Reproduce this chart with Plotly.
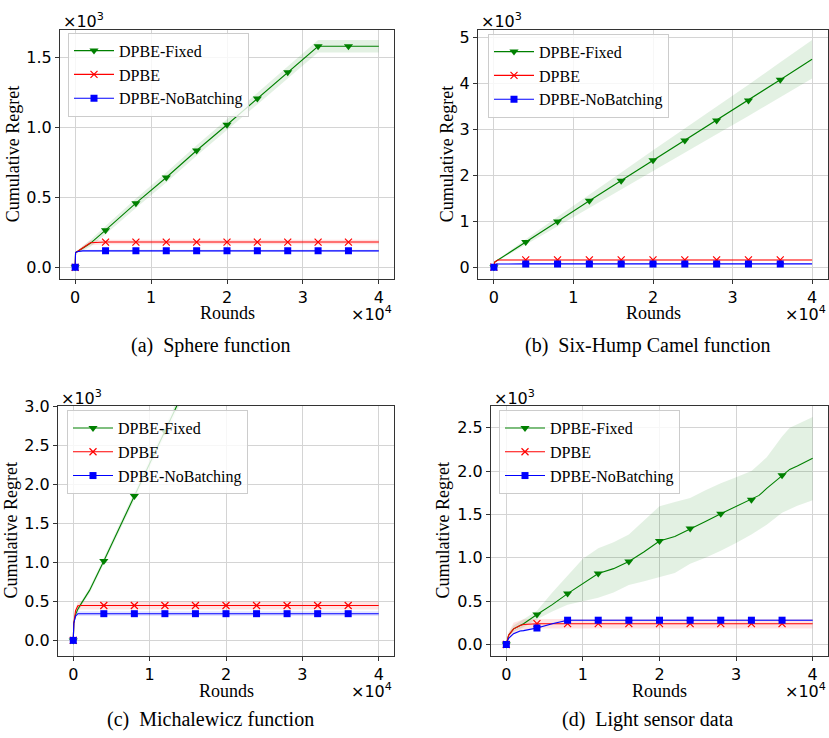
import plotly.graph_objects as go

W, H = 829, 738

NAMES = ["DPBE-Fixed", "DPBE", "DPBE-NoBatching"]
MARK_X = [0, 0.4, 0.8, 1.2, 1.6, 2.0, 2.4, 2.8, 3.2, 3.6]
X_TICKS = [0, 1, 2, 3, 4]

# ---------------- (a) Sphere function ----------------
a_x = [0, 0.005, 0.02, 0.05, 0.1, 0.2, 0.4, 0.8, 1.2, 1.6, 2.0, 2.4, 2.8, 3.2, 3.6, 4.0]
a_fixed = [0, 0.105, 0.11, 0.12, 0.138, 0.172, 0.266, 0.459, 0.643, 0.836, 1.020, 1.208, 1.396, 1.582, 1.582, 1.582]
a_fixed_sd = [0, 0.005, 0.006, 0.01, 0.018, 0.024, 0.03, 0.034, 0.036, 0.038, 0.04, 0.042, 0.044, 0.045, 0.045, 0.045]
a_dpbe = [0, 0.105, 0.11, 0.122, 0.14, 0.176, 0.181, 0.181, 0.181, 0.181, 0.181, 0.181, 0.181, 0.181, 0.181, 0.181]
a_dpbe_sd = [0, 0.005, 0.006, 0.01, 0.014, 0.018, 0.016, 0.016, 0.016, 0.016, 0.016, 0.016, 0.016, 0.016, 0.016, 0.016]
a_nob = [0, 0.105, 0.112, 0.116, 0.118, 0.118, 0.118, 0.118, 0.118, 0.118, 0.118, 0.118, 0.118, 0.118, 0.118, 0.118]
a_nob_sd = [0, 0.004, 0.006, 0.007, 0.007, 0.007, 0.007, 0.007, 0.007, 0.007, 0.007, 0.007, 0.007, 0.007, 0.007, 0.007]
a_yticks = [0.0, 0.5, 1.0, 1.5]

# ---------------- (b) Six-Hump Camel function ----------------
b_x = [0, 0.01, 0.05, 0.1, 0.4, 0.8, 1.2, 1.6, 2.0, 2.4, 2.8, 3.2, 3.6, 4.0]
b_fixed = [0, 0.11, 0.155, 0.21, 0.55, 0.996, 1.447, 1.884, 2.328, 2.758, 3.195, 3.632, 4.083, 4.527]
b_fixed_sd = [0, 0.01, 0.015, 0.02, 0.06, 0.1, 0.14, 0.18, 0.22, 0.26, 0.3, 0.34, 0.38, 0.42]
b_dpbe = [0, 0.11, 0.155, 0.158, 0.158, 0.158, 0.158, 0.158, 0.158, 0.158, 0.158, 0.158, 0.158, 0.158]
b_dpbe_sd = [0, 0.01, 0.015, 0.015, 0.015, 0.015, 0.015, 0.015, 0.015, 0.015, 0.015, 0.015, 0.015, 0.015]
b_nob = [0, 0.06, 0.07, 0.072, 0.072, 0.072, 0.072, 0.072, 0.072, 0.072, 0.072, 0.072, 0.072, 0.072]
b_nob_sd = [0, 0.005, 0.008, 0.008, 0.008, 0.008, 0.008, 0.008, 0.008, 0.008, 0.008, 0.008, 0.008, 0.008]
b_yticks = [0, 1, 2, 3, 4, 5]

# ---------------- (c) Michalewicz function ----------------
c_x_fixed = [0, 0.007, 0.03, 0.06, 0.11, 0.213, 0.4, 0.8, 1.2, 1.6]
c_fixed = [0, 0.22, 0.33, 0.40, 0.48, 0.64, 1.017, 1.848, 2.68, 3.51]
c_fixed_sd = [0, 0.01, 0.02, 0.03, 0.03, 0.035, 0.04, 0.05, 0.06, 0.07]
c_x = [0, 0.007, 0.03, 0.06, 0.11, 0.213, 0.4, 0.8, 1.2, 1.6, 2.0, 2.4, 2.8, 3.2, 3.6, 4.0]
c_dpbe = [0, 0.22, 0.38, 0.443, 0.447, 0.447, 0.447, 0.447, 0.447, 0.447, 0.447, 0.447, 0.447, 0.447, 0.447, 0.447]
c_dpbe_sd = [0, 0.01, 0.03, 0.05, 0.053, 0.053, 0.053, 0.053, 0.053, 0.053, 0.053, 0.053, 0.053, 0.053, 0.053, 0.053]
c_nob = [0, 0.22, 0.31, 0.342, 0.342, 0.342, 0.342, 0.342, 0.342, 0.342, 0.342, 0.342, 0.342, 0.342, 0.342, 0.342]
c_nob_sd = [0, 0.01, 0.02, 0.03, 0.03, 0.03, 0.03, 0.03, 0.03, 0.03, 0.03, 0.03, 0.03, 0.03, 0.03, 0.03]
c_yticks = [0.0, 0.5, 1.0, 1.5, 2.0, 2.5, 3.0]

# ---------------- (d) Light sensor data ----------------
d_x = [0, 0.03, 0.095, 0.18, 0.225, 0.4, 0.6, 0.8, 1.0, 1.2, 1.4, 1.6, 1.8, 2.0, 2.2, 2.4, 2.6,
       2.8, 3.0, 3.2, 3.3, 3.4, 3.6, 3.7, 3.8, 4.0]
d_fixed = [0, 0.107, 0.18, 0.22, 0.24, 0.345, 0.46, 0.587, 0.70, 0.818, 0.875, 0.958, 1.07, 1.193,
           1.246, 1.337, 1.42, 1.508, 1.59, 1.670, 1.72, 1.80, 1.951, 2.02, 2.06, 2.148]
d_fixed_hi = [0, 0.13, 0.22, 0.27, 0.29, 0.39, 0.60, 0.80, 0.99, 1.11, 1.18, 1.27, 1.43, 1.595,
              1.645, 1.69, 1.78, 1.86, 1.93, 2.00, 2.08, 2.16, 2.40, 2.50, 2.54, 2.625]
d_fixed_lo = [0, 0.09, 0.15, 0.18, 0.20, 0.29, 0.38, 0.458, 0.50, 0.54, 0.60, 0.686, 0.73, 0.78,
              0.826, 0.93, 1.0, 1.08, 1.17, 1.27, 1.33, 1.38, 1.52, 1.56, 1.60, 1.663]
d_dpbe = [0, 0.107, 0.18, 0.22, 0.23, 0.24, 0.24, 0.24, 0.24, 0.24, 0.24, 0.24, 0.24, 0.24,
          0.24, 0.24, 0.24, 0.24, 0.24, 0.24, 0.24, 0.24, 0.24, 0.24, 0.24, 0.24]
d_dpbe_hi = [0, 0.14, 0.25, 0.28, 0.29, 0.295, 0.295, 0.295, 0.295, 0.295, 0.295, 0.295, 0.295, 0.295,
             0.295, 0.295, 0.295, 0.295, 0.295, 0.295, 0.295, 0.295, 0.295, 0.295, 0.295, 0.295]
d_dpbe_lo = [0, 0.075, 0.12, 0.165, 0.175, 0.185, 0.185, 0.185, 0.185, 0.185, 0.185, 0.185, 0.185, 0.185,
             0.185, 0.185, 0.185, 0.185, 0.185, 0.185, 0.185, 0.185, 0.185, 0.185, 0.185, 0.185]
d_nob = [0, 0.07, 0.125, 0.155, 0.16, 0.19, 0.24, 0.28, 0.28, 0.28, 0.28, 0.28, 0.28, 0.28,
         0.28, 0.28, 0.28, 0.28, 0.28, 0.28, 0.28, 0.28, 0.28, 0.28, 0.28, 0.28]
d_nob_hi = [0, 0.08, 0.135, 0.165, 0.17, 0.2, 0.25, 0.29, 0.29, 0.29, 0.29, 0.29, 0.29, 0.29,
            0.29, 0.29, 0.29, 0.29, 0.29, 0.29, 0.29, 0.29, 0.29, 0.29, 0.29, 0.29]
d_nob_lo = [0, 0.06, 0.115, 0.145, 0.15, 0.18, 0.23, 0.27, 0.27, 0.27, 0.27, 0.27, 0.27, 0.27,
            0.27, 0.27, 0.27, 0.27, 0.27, 0.27, 0.27, 0.27, 0.27, 0.27, 0.27, 0.27]
d_yticks = [0.0, 0.5, 1.0, 1.5, 2.0, 2.5]

CAPTIONS = ["(a)\u2002Sphere function", "(b)\u2002Six-Hump Camel function",
            "(c)\u2002Michalewicz function", "(d)\u2002Light sensor data"]

COLORS = ["#008000", "#ff0000", "#0000ff"]
FILLS = ["rgba(0,128,0,0.11)", "rgba(255,0,0,0.11)", "rgba(0,0,255,0.11)"]
SYMBOLS = ["triangle-down", "x-thin", "square"]
MSIZES = [8, 7, 7]

SERIF = "Liberation Serif"
SANS = "DejaVu Sans"


def px(xp):
    return xp / W


def py(yp):
    return 1 - yp / H


def ms(mean, sd, sign):
    return [m + sign * s for m, s in zip(mean, sd)]


# panel layout in pixels: (left, right, top, bottom)
panels = [
    dict(box=(60, 394, 21, 273), xr=[-0.2, 4.2], yr=[-0.081, 1.70], yt=a_yticks, fmt=".1f",
         series=[(a_x, a_fixed, ms(a_fixed, a_fixed_sd, -1), ms(a_fixed, a_fixed_sd, 1)),
                 (a_x, a_dpbe, ms(a_dpbe, a_dpbe_sd, -1), ms(a_dpbe, a_dpbe_sd, 1)),
                 (a_x, a_nob, ms(a_nob, a_nob_sd, -1), ms(a_nob, a_nob_sd, 1))],
         legend=(68, 24), ytitle=(13, 147), xtitle=(227, 308), mul3=(61, 12), mul4=(394, 308),
         cap=(210, 341)),
    dict(box=(478, 828, 21, 273), xr=[-0.2, 4.2], yr=[-0.25, 5.17], yt=b_yticks, fmt="d",
         series=[(b_x, b_fixed, ms(b_fixed, b_fixed_sd, -1), ms(b_fixed, b_fixed_sd, 1)),
                 (b_x, b_dpbe, ms(b_dpbe, b_dpbe_sd, -1), ms(b_dpbe, b_dpbe_sd, 1)),
                 (b_x, b_nob, ms(b_nob, b_nob_sd, -1), ms(b_nob, b_nob_sd, 1))],
         legend=(488, 25), ytitle=(447, 147), xtitle=(653, 308), mul3=(479, 12), mul4=(828, 308),
         cap=(648, 341)),
    dict(box=(58, 394, 402, 655), xr=[-0.2, 4.2], yr=[-0.2, 3.0], yt=c_yticks, fmt=".1f",
         series=[(c_x_fixed, c_fixed, ms(c_fixed, c_fixed_sd, -1), ms(c_fixed, c_fixed_sd, 1)),
                 (c_x, c_dpbe, ms(c_dpbe, c_dpbe_sd, -1), ms(c_dpbe, c_dpbe_sd, 1)),
                 (c_x, c_nob, ms(c_nob, c_nob_sd, -1), ms(c_nob, c_nob_sd, 1))],
         legend=(67, 406), ytitle=(11, 528), xtitle=(226, 690), mul3=(59, 393), mul4=(394, 690),
         cap=(210, 719)),
    dict(box=(491, 828, 402, 655), xr=[-0.2, 4.2], yr=[-0.133, 2.75], yt=d_yticks, fmt=".1f",
         series=[(d_x, d_fixed, d_fixed_lo, d_fixed_hi),
                 (d_x, d_dpbe, d_dpbe_lo, d_dpbe_hi),
                 (d_x, d_nob, d_nob_lo, d_nob_hi)],
         legend=(499, 406), ytitle=(443, 528), xtitle=(659, 690), mul3=(492, 393), mul4=(828, 690),
         cap=(647, 719)),
]

fig = go.Figure()
annotations = []
layout_axes = {}

for i, p in enumerate(panels):
    k = "" if i == 0 else str(i + 1)
    xa, ya = "x" + k, "y" + k
    lg = "legend" + k
    l, r, t, b = p["box"]
    layout_axes["xaxis" + k] = dict(
        domain=[px(l), px(r)], range=p["xr"], anchor=ya, tickvals=X_TICKS,
        ticks="outside", ticklen=4, tickwidth=1, tickcolor="#333333",
        showgrid=True, gridcolor="#d4d4d4", gridwidth=1, zeroline=False,
        showline=True, mirror=True, linecolor="#333333", linewidth=1,
        tickfont=dict(family=SANS, size=16, color="black"))
    layout_axes["yaxis" + k] = dict(
        domain=[py(b), py(t)], range=p["yr"], anchor=xa, tickvals=p["yt"], tickformat=p["fmt"],
        ticks="outside", ticklen=4, tickwidth=1, tickcolor="#333333",
        showgrid=True, gridcolor="#d4d4d4", gridwidth=1, zeroline=False,
        showline=True, mirror=True, linecolor="#333333", linewidth=1,
        tickfont=dict(family=SANS, size=16, color="black"))

    # bands
    for j, (sx, sy, lo, hi) in enumerate(p["series"]):
        fig.add_trace(go.Scatter(x=sx, y=hi, mode="lines", line=dict(width=0, color=FILLS[j]),
                                 xaxis=xa, yaxis=ya, showlegend=False, hoverinfo="skip"))
        fig.add_trace(go.Scatter(x=sx, y=lo, mode="lines", line=dict(width=0, color=FILLS[j]),
                                 fill="tonexty", fillcolor=FILLS[j],
                                 xaxis=xa, yaxis=ya, showlegend=False, hoverinfo="skip"))
    # lines and markers
    for j, (sx, sy, lo, hi) in enumerate(p["series"]):
        fig.add_trace(go.Scatter(x=sx, y=sy, mode="lines", line=dict(width=1.1, color=COLORS[j]),
                                 xaxis=xa, yaxis=ya, showlegend=False))
        mx = [xv for xv in sx if any(abs(xv - m) < 1e-9 for m in MARK_X)]
        my = [yv for xv, yv in zip(sx, sy) if any(abs(xv - m) < 1e-9 for m in MARK_X)]
        fig.add_trace(go.Scatter(x=mx, y=my, mode="markers",
                                 marker=dict(symbol=SYMBOLS[j], size=MSIZES[j], color=COLORS[j],
                                             line=dict(width=1.2 if j == 1 else 0, color=COLORS[j])),
                                 xaxis=xa, yaxis=ya, showlegend=False))
    # legend entries
    for j in range(3):
        fig.add_trace(go.Scatter(x=[None], y=[None], mode="lines+markers", name=NAMES[j],
                                 line=dict(width=1.1, color=COLORS[j]),
                                 marker=dict(symbol=SYMBOLS[j], size=MSIZES[j], color=COLORS[j],
                                             line=dict(width=1.2 if j == 1 else 0, color=COLORS[j])),
                                 xaxis=xa, yaxis=ya, legend=lg, showlegend=True))
    lx, ly = p["legend"]
    layout_axes[lg] = dict(x=px(lx), y=py(ly), xanchor="left", yanchor="top",
                           bgcolor="rgba(255,255,255,0.8)", bordercolor="#cccccc", borderwidth=1,
                           font=dict(family=SERIF, size=16, color="black"),
                           tracegroupgap=0, itemwidth=40, traceorder="normal")

    annotations += [
        dict(text="Cumulative Regret", x=px(p["ytitle"][0]), y=py(p["ytitle"][1]), textangle=-90,
             font=dict(family=SERIF, size=18, color="black")),
        dict(text="Rounds", x=px(p["xtitle"][0]), y=py(p["xtitle"][1]),
             font=dict(family=SERIF, size=18, color="black")),
        dict(text="×10<sup>3</sup>", x=px(p["mul3"][0]), y=py(p["mul3"][1]), xanchor="left",
             font=dict(family=SANS, size=16, color="black")),
        dict(text="×10<sup>4</sup>", x=px(p["mul4"][0]), y=py(p["mul4"][1]), xanchor="right",
             font=dict(family=SANS, size=16, color="black")),
        dict(text=CAPTIONS[i], x=px(p["cap"][0]), y=py(p["cap"][1]),
             font=dict(family=SERIF, size=20, color="black")),
    ]

for a in annotations:
    a.update(xref="paper", yref="paper", showarrow=False)
    a.setdefault("xanchor", "center")
    a.setdefault("yanchor", "middle")

fig.update_layout(width=W, height=H, margin=dict(l=0, r=0, t=0, b=0),
                  paper_bgcolor="white", plot_bgcolor="white",
                  annotations=annotations, **layout_axes)

fig.write_html("out.html")
